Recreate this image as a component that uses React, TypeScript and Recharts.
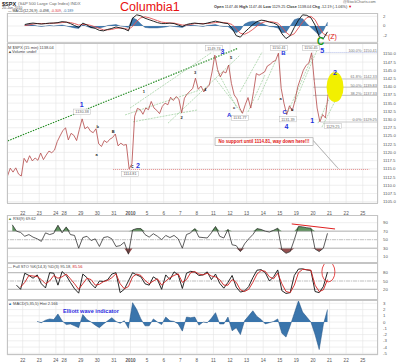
import React from "react";
import {
  ComposedChart,
  Line,
  Area,
  XAxis,
  YAxis,
  CartesianGrid,
  ReferenceLine,
  ReferenceDot,
} from "recharts";

const FONT = "'Liberation Sans', Arial, sans-serif";
const X_DOMAIN: [number, number] = [0.054, 22.42];

// trading sessions (Dec 24 is a half day)
const sessionLabels = ["21", "22", "23", "24", "28", "29", "30", "31", "2010", "5", "6", "7", "8", "11", "12", "13", "14", "15", "19", "20", "21", "22", "25"];
const sessionLength = [1, 1, 1, 0.5, 1, 1, 1, 1, 1, 1, 1, 1, 1, 1, 1, 1, 1, 1, 1, 1, 1, 1, 1];

// $SPX 15 min, sampled ~6 per session
const price: number[][] = [
  [1112.8, 1115.2, 1114.0, 1115.3, 1113.4, 1112.8],
  [1118.2, 1116.9, 1119.0, 1117.4, 1118.3, 1117.6],
  [1119.8, 1117.8, 1119.2, 1120.4, 1119.9, 1120.7],
  [1123.3, 1125.0, 1126.6],
  [1127.5, 1123.8, 1125.8, 1125.2, 1123.6, 1127.0],
  [1130.2, 1127.2, 1127.8, 1126.5, 1126.0, 1127.2],
  [1122.6, 1121.8, 1123.6, 1123.0, 1124.0, 1124.5],
  [1125.6, 1122.0, 1122.8, 1122.2, 1122.4, 1115.0],
  [1116.5, 1131.0, 1133.4, 1133.0, 1131.6, 1133.5],
  [1133.0, 1135.5, 1133.5, 1132.8, 1131.8, 1134.0],
  [1135.0, 1134.5, 1136.8, 1135.8, 1137.0, 1136.2],
  [1132.0, 1136.5, 1137.8, 1138.6, 1139.5, 1142.6],
  [1139.2, 1140.2, 1138.4, 1139.6, 1140.5, 1144.5],
  [1149.6, 1145.2, 1143.0, 1144.6, 1144.2, 1146.6],
  [1141.0, 1137.5, 1136.3, 1133.5, 1131.9, 1134.5],
  [1136.7, 1133.5, 1138.5, 1144.0, 1143.5, 1144.0],
  [1144.5, 1146.3, 1146.8, 1147.6, 1148.0, 1150.2],
  [1139.5, 1135.0, 1131.5, 1134.2, 1132.6, 1135.8],
  [1140.0, 1142.5, 1145.0, 1146.5, 1147.2, 1150.3],
  [1141.5, 1133.5, 1129.3, 1131.5, 1130.5, 1137.8],
];

// indicators, sampled ~4 per session
const macdLine: (number | null)[][] = [
  [null, null, null, null], [0.3, 0.5, 0.6, 0.5], [0.4, 0.5, 0.6, 0.6], [0.7, 0.9],
  [0.8, 0.5, 0.1, -0.3], [0.6, 0.2, -0.3, -0.5], [-0.9, -1.0, -0.7, -0.5], [-0.2, -0.4, -0.6, -1.0],
  [1.6, 2.3, 2.1, 1.6], [1.3, 1.0, 0.7, 0.5], [0.5, 0.6, 0.5, 0.2], [-0.1, 0.3, 0.5, 0.6],
  [0.5, 0.4, 0.6, 0.8], [1.0, 0.8, 0.6, 0.5], [-0.5, -2.0, -2.3, -1.3], [-0.5, 0.3, 0.9, 1.2],
  [1.1, 0.8, 0.6, 0.2], [-1.6, -2.6, -2.0, -0.3], [1.2, 2.3, 2.2, 1.7], [0.2, -2.2, -2.6, -1.2],
];
const signalLine: (number | null)[][] = [
  [null, null, null, null], [0.1, 0.2, 0.4, 0.5], [0.5, 0.5, 0.5, 0.6], [0.6, 0.7],
  [0.8, 0.7, 0.5, 0.2], [0.3, 0.3, 0.1, -0.2], [-0.5, -0.8, -0.8, -0.7], [-0.5, -0.4, -0.5, -0.7],
  [-0.1, 1.0, 1.7, 1.9], [1.7, 1.4, 1.1, 0.8], [0.7, 0.6, 0.6, 0.4], [0.2, 0.2, 0.3, 0.5],
  [0.5, 0.5, 0.5, 0.6], [0.7, 0.8, 0.7, 0.6], [0.3, -0.6, -1.5, -1.7], [-1.3, -0.7, 0.0, 0.6],
  [0.9, 0.9, 0.8, 0.6], [-0.2, -1.3, -2.0, -1.6], [-0.4, 0.8, 1.7, 2.0], [1.3, -0.3, -1.6, -2.0],
];
const rsi9: (number | null)[][] = [
  [null, 85, 70, 67], [58, 62, 56, 52], [46, 66, 62, 65], [84, 66],
  [80, 62, 60, 30], [55, 58, 48, 52], [34, 55, 57, 52], [34, 36, 44, 16],
  [73, 76, 76, 62], [56, 64, 58, 50], [60, 55, 60, 52], [30, 62, 66, 76],
  [56, 55, 54, 66], [81, 58, 54, 74], [38, 36, 22, 40], [52, 62, 76, 74],
  [70, 68, 72, 77], [26, 18, 22, 50], [81, 80, 78, 77], [28, 22, 30, 65],
];
const stoK: (number | null)[][] = [
  [null, null, 35, 20], [78, 70, 60, 72], [40, 25, 80, 78], [35, 84],
  [70, 45, 22, 6], [75, 62, 40, 25], [50, 48, 55, 75], [80, 8, 20, 50],
  [80, 72, 65, 40], [35, 65, 55, 20], [72, 55, 83, 72], [23, 78, 85, 82],
  [70, 72, 83, 55], [75, 42, 24, 45], [70, 28, 10, 14], [30, 62, 89, 91],
  [80, 50, 65, 90], [15, 5, 8, 70], [93, 94, 90, 88], [12, 8, 30, 82],
];
const stoD: (number | null)[][] = [
  [null, null, null, 28], [45, 70, 68, 66], [55, 40, 50, 70], [60, 65],
  [75, 58, 40, 20], [40, 60, 55, 35], [38, 48, 52, 62], [76, 40, 22, 30],
  [65, 75, 70, 52], [40, 50, 58, 35], [50, 62, 70, 76], [45, 55, 80, 84],
  [75, 72, 78, 68], [65, 55, 35, 35], [55, 45, 18, 12], [20, 45, 75, 88],
  [85, 65, 58, 78], [40, 12, 8, 35], [80, 92, 91, 89], [35, 12, 18, 55],
];
const ewiHist: (number | null)[][] = [
  [null, null, null, null], [null, null, null, 0.1], [-0.1, 0.3, 0.5, 0.4], [1.3, 0.2],
  [-0.4, -0.3, -0.6, -0.9], [1.2, 0.4, 0.0, -0.5], [-0.9, -0.3, 0.2, 0.7], [0.1, -0.2, 0.2, -1.0],
  [3.1, 2.0, 0.5, -0.6], [-0.6, 0.5, 0.0, -0.4], [0.8, 0.2, 0.1, -0.3], [-1.45, 0.8, 0.7, 0.8],
  [-0.5, 0.0, -0.1, 0.6], [1.5, -0.3, -0.3, 0.8], [-1.4, -0.9, -2.0, 0.2], [1.0, 1.8, 0.9, 0.4],
  [-0.3, -0.1, 0.1, 0.5], [-1.8, -2.4, -0.6, 1.4], [3.4, 1.6, 0.8, 0.0], [-2.0, -4.4, -0.4, 2.0],
];

const priceTicks = [1105, 1107.5, 1110, 1112.5, 1115, 1117.5, 1120, 1122.5, 1125, 1127.5, 1130, 1132.5, 1135, 1137.5, 1140, 1142.5, 1145, 1147.5, 1150];
const fibLevels = [
  { label: "100.0%: 1150.41", value: 1150.41 },
  { label: "61.8%: 1142.33", value: 1142.33 },
  { label: "50.0%: 1139.83", value: 1139.83 },
  { label: "38.2%: 1137.33", value: 1137.33 },
  { label: "0.0%: 1129.25", value: 1129.25 },
];

// chartist's drawings, in (session time, price)
const mainTrend = [{ x: 0.1, y: 1123.5 }, { x: 13.98, y: 1151.7 }];
const channelLines = [
  [7.17, 1131.4, 11.69, 1139.0], [7.65, 1129.3, 11.51, 1132.9], [9.76, 1128.9, 14.1, 1149.6],
  [7.47, 1133.5, 12.41, 1150.5], [12.59, 1142.6, 14.22, 1132.0], [12.71, 1145.0, 13.92, 1133.5],
  [14.1, 1138.4, 15.43, 1150.5], [14.58, 1132.3, 15.6, 1143.5], [15.18, 1135.9, 16.27, 1148.1],
  [16.99, 1132.3, 18.5, 1149.6], [17.41, 1135.3, 18.74, 1151.1], [18.8, 1128.9, 19.89, 1140.8],
  [19.04, 1127.7, 20.01, 1137.4],
];
const waveLabels = [
  { t: 4.56, p: 1134.6, text: "1", color: "#2233dd", size: 7 },
  { t: 7.95, p: 1115.9, text: "2", color: "#2233dd", size: 7 },
  { t: 7.6, p: 1115.7, text: "c", color: "#222", size: 4.5 },
  { t: 13.05, p: 1150.8, text: "3", color: "#2233dd", size: 7 },
  { t: 13.45, p: 1131.4, text: "A", color: "#2233dd", size: 6 },
  { t: 16.72, p: 1150.2, text: "B", color: "#2233dd", size: 6 },
  { t: 16.8, p: 1132.3, text: "C", color: "#2233dd", size: 6 },
  { t: 16.9, p: 1127.9, text: "4", color: "#2233dd", size: 7 },
  { t: 19.05, p: 1151.1, text: "5", color: "#2233dd", size: 7 },
  { t: 18.45, p: 1129.8, text: "1", color: "#2233dd", size: 7 },
  { t: 19.83, p: 1144.2, text: "2", color: "#2233dd", size: 7 },
  { t: 5.52, p: 1127.8, text: "b", color: "#222", size: 4 },
  { t: 5.46, p: 1119.3, text: "a", color: "#222", size: 4 },
  { t: 6.45, p: 1126.2, text: "B", color: "#222", size: 4 },
  { t: 8.3, p: 1138.4, text: "1", color: "#222", size: 4 },
  { t: 10.58, p: 1130.7, text: "2", color: "#222", size: 4 },
  { t: 11.4, p: 1144.2, text: "3", color: "#222", size: 4 },
  { t: 12.0, p: 1139.0, text: "4", color: "#222", size: 4 },
  { t: 13.57, p: 1149.0, text: "5", color: "#222", size: 4 },
  { t: 13.75, p: 1133.6, text: "c", color: "#222", size: 4 },
  { t: 16.55, p: 1136.5, text: "a", color: "#222", size: 4 },
  { t: 17.25, p: 1133.0, text: "b", color: "#222", size: 4 },
];
const priceBoxes = [
  { t: 4.58, p: 1132.4, text: "1130.38" },
  { t: 7.47, p: 1113.4, text: "1114.81" },
  { t: 12.53, p: 1151.7, text: "1149.74" },
  { t: 14.1, p: 1130.5, text: "1131.77" },
  { t: 16.45, p: 1151.8, text: "1150.41" },
  { t: 16.99, p: 1130.1, text: "1131.39" },
  { t: 18.38, p: 1151.8, text: "1150.45" },
  { t: 19.7, p: 1128.0, text: "1129.25" },
];

const sessionStart = sessionLength.map((_, i) => sessionLength.slice(0, i).reduce((a, b) => a + b, 0));
const dayTicks = sessionStart.slice(1);

function onGrid(values: (number | null)[][]) {
  const out: { t: number; v: number | null }[] = [];
  values.forEach((day, i) => {
    day.forEach((v, j) => out.push({ t: sessionStart[i] + ((j + 0.5) / day.length) * sessionLength[i], v }));
  });
  return out;
}

const priceData = onGrid(price).map((d) => ({ t: d.t, price: d.v }));

const mF = macdLine.flat();
const sF = signalLine.flat();
const rF = rsi9.flat();
const kF = stoK.flat();
const dF = stoD.flat();
const eF = ewiHist.flat();
const indData = onGrid(macdLine).map((g, i) => {
  const m = mF[i];
  const s = sF[i];
  const r = rF[i];
  return {
    t: g.t,
    macd: m,
    signal: s,
    hist: m != null && s != null ? m - s : null,
    rsi: r,
    rsiHi: r == null ? null : Math.max(r, 70),
    rsiLo: r == null ? null : Math.min(r, 30),
    k: kF[i],
    d: dF[i],
    ewi: eF[i],
  };
});

const DayTick = ({ x, y, payload, dy }: any) => {
  const label = sessionLabels[sessionStart.indexOf(payload.value)];
  return (
    <text x={x} y={y + dy} textAnchor="middle" fontSize={4.6} fill="#555" fontFamily={FONT} fontWeight={label === "2010" ? 700 : 400}>
      {label}
    </text>
  );
};

const rightTick = (fmt: (v: number) => string) => ({ x, y, payload }: any) => (
  <text x={x + 3} y={y + 1.5} fontSize={4.3} fill="#555" fontFamily={FONT}>
    {fmt(payload.value)}
  </text>
);

const label = (text: string, color: string, size: number, weight = 700, anchor = "middle") => (p: any) => (
  <text x={p.cx} y={p.cy} dy={size * 0.35} textAnchor={anchor} fontSize={size} fill={color} fontWeight={weight} fontFamily={FONT}>
    {text}
  </text>
);

const boxLabel = (text: string) => (p: any) => (
  <g>
    <rect x={p.cx - 8.5} y={p.cy - 2.6} width={17} height={5.2} fill="#fff" stroke="#bbb" strokeWidth={0.5} />
    <text x={p.cx} y={p.cy + 1.4} textAnchor="middle" fontSize={3.8} fill="#666" fontFamily={FONT}>
      {text}
    </text>
  </g>
);

const xAxisHidden = (
  <XAxis dataKey="t" type="number" domain={X_DOMAIN} ticks={dayTicks} interval={0} allowDataOverflow height={0} tick={false} axisLine={false} tickLine={false} />
);
const chartMargin = { top: 0, right: 0, left: 7, bottom: 0 };
const gridColor = "#e4e4e4";

const abs = (left: number, top: number, extra: React.CSSProperties = {}): React.CSSProperties => ({
  position: "absolute",
  left,
  top,
  fontFamily: FONT,
  whiteSpace: "nowrap",
  lineHeight: 1,
  ...extra,
});

const panelBox = (top: number, height: number) => (
  <div style={{ position: "absolute", left: 7, top, width: 371, height, border: "1px solid #c4c4c4", boxSizing: "border-box", pointerEvents: "none" }} />
);

export default function App() {
  return (
    <div style={{ position: "fixed", left: 0, top: 0, width: 400, height: 362, background: "#fff", overflow: "hidden" }}>
      {/* header */}
      <div style={abs(2, 1.5, { fontSize: 5.5, fontWeight: 700, color: "#222" })}>$SPX</div>
      <div style={abs(18, 2.2, { fontSize: 4.2, color: "#666" })}>(S&amp;P 500 Large Cap Index) INDX</div>
      <div style={abs(2, 7, { fontSize: 3.6, color: "#555" })}>20-Jan-2010</div>
      <div style={abs(120, 0.5, { fontSize: 12.5, color: "#e81010" })}>Columbia1</div>
      <div style={abs(343, 0.5, { fontSize: 3.8, color: "#666" })}>@StockCharts.com</div>
      <div style={abs(214, 5.5, { fontSize: 3.8, color: "#333" })}>
        <b>Open</b> 1147.46 <b>High</b> 1147.46 <b>Low</b> 1129.25 <b>Close</b> 1138.04 <b>Chg</b> -12.19 (-1.06%) <span style={{ color: "#d00" }}>▼</span>
      </div>

      {/* MACD(12,26,9) */}
      <div style={{ position: "absolute", left: 0, top: 13 }}>
        <ComposedChart width={400} height={29} data={indData} margin={chartMargin}>
          <CartesianGrid stroke={gridColor} strokeWidth={0.6} />
          {xAxisHidden}
          <YAxis orientation="right" width={22} domain={[-3.3, 2.68]} ticks={[-2, 0, 2]} interval={0} allowDataOverflow axisLine={false} tickLine={false} tickSize={0} tick={rightTick((v) => String(v))} />
          <Area dataKey="hist" baseValue={0} fill="#2f6ea8" fillOpacity={0.9} stroke="#1f4f80" strokeWidth={0.4} isAnimationActive={false} />
          <Line dataKey="signal" stroke="#e05050" strokeWidth={0.9} dot={false} isAnimationActive={false} />
          <Line dataKey="macd" stroke="#111" strokeWidth={0.9} dot={false} isAnimationActive={false} />
        </ComposedChart>
      </div>
      {panelBox(13, 30)}
      <div style={abs(8, 10.2, { fontSize: 3.6, color: "#333" })}>
        — MACD(12,26,9) -0.498, <span style={{ color: "#d33" }}>-0.309</span>, <span style={{ color: "#2f6ea8" }}>-0.189</span>
      </div>

      {/* price panel */}
      <div style={{ position: "absolute", left: 0, top: 42 }}>
        <ComposedChart width={400} height={173} data={priceData} margin={{ ...chartMargin, top: 1 }}>
          <CartesianGrid stroke={gridColor} strokeWidth={0.6} />
          <XAxis dataKey="t" type="number" domain={X_DOMAIN} ticks={dayTicks} interval={0} allowDataOverflow height={12} axisLine={false} tickLine={false} tickSize={0} tick={<DayTick dy={10} />} />
          <YAxis orientation="right" width={22} domain={[1104.6, 1153.3]} ticks={priceTicks} interval={0} allowDataOverflow axisLine={false} tickLine={false} tickSize={0} tick={rightTick((v) => v.toFixed(1))} />
          <ReferenceDot x={19.83} y={1139.9} r={1} shape={(p: any) => <ellipse cx={p.cx} cy={p.cy} rx={8.5} ry={15} fill="#f2f000" />} />
          <ReferenceLine segment={mainTrend} stroke="#1d8a1d" strokeWidth={1.1} strokeDasharray="1.5 1.2" />
          {channelLines.map((c, i) => (
            <ReferenceLine key={i} segment={[{ x: c[0], y: c[1] }, { x: c[2], y: c[3] }]} stroke="#88c488" strokeWidth={0.6} strokeDasharray="2 1" />
          ))}
          <ReferenceLine segment={[{ x: 6.45, y: 1114.81 }, { x: 21.9, y: 1114.81 }]} stroke="#e07070" strokeWidth={0.8} strokeDasharray="1 1" />
          {fibLevels.map((f, i) => (
            <ReferenceLine
              key={f.label}
              segment={[{ x: i === 0 || i === 4 ? 18.95 : 18.5, y: f.value }, { x: 22.42, y: f.value }]}
              stroke={i === 0 ? "#8090d8" : "#aaa"}
              strokeWidth={0.6}
              strokeDasharray={i === 0 ? "1 1" : undefined}
            />
          ))}
          {fibLevels.map((f) => (
            <ReferenceDot key={"l" + f.label} x={22.35} y={f.value + 0.6} r={1} shape={label(f.label, "#777", 3.8, 400, "end")} />
          ))}
          <ReferenceLine segment={[{ x: 18.42, y: 1124.1 }, { x: 20.05, y: 1115.0 }]} stroke="#888" strokeWidth={0.5} />
          <ReferenceLine segment={[{ x: 18.55, y: 1123.5 }, { x: 19.95, y: 1115.4 }]} stroke="#aaa" strokeWidth={0.5} />
          <Line dataKey="price" stroke="#b44848" strokeWidth={0.8} dot={false} isAnimationActive={false} />
          {priceBoxes.map((b) => (
            <ReferenceDot key={b.text} x={b.t} y={b.p} r={1} shape={boxLabel(b.text)} />
          ))}
          {waveLabels.map((w, i) => (
            <ReferenceDot key={"w" + i} x={w.t} y={w.p} r={1} shape={label(w.text, w.color, w.size)} />
          ))}
          <ReferenceDot
            x={15.55}
            y={1123.3}
            r={1}
            shape={(p: any) => (
              <g>
                <rect x={p.cx - 49} y={p.cy - 3.8} width={98} height={7.6} fill="#fff" stroke="#999" strokeWidth={0.6} />
                <text x={p.cx} y={p.cy + 1.6} textAnchor="middle" fontSize={4.5} fontWeight={700} fill="#e01010" fontFamily={FONT}>
                  No support until 1114.81, way down here!!!
                </text>
              </g>
            )}
          />
        </ComposedChart>
      </div>
      {panelBox(43, 161)}
      <div style={abs(8, 45.5, { fontSize: 4, color: "#444" })}>M $SPX (15 min) 1138.04</div>
      <div style={abs(8, 50, { fontSize: 4, color: "#444" })}>▲Volume undef</div>
      <div style={abs(317, 37, { fontSize: 10, fontWeight: 700, color: "#1a9a1a" })}>C</div>
      <div style={abs(328, 33, { fontSize: 7, color: "#e01010" })}>(Z)</div>

      {/* RSI(9) */}
      <div style={{ position: "absolute", left: 0, top: 215 }}>
        <ComposedChart width={400} height={48} data={indData} margin={chartMargin}>
          <CartesianGrid stroke={gridColor} strokeWidth={0.6} />
          {xAxisHidden}
          <YAxis orientation="right" width={22} domain={[-4.8, 108]} ticks={[10, 30, 50, 70, 90]} interval={0} allowDataOverflow axisLine={false} tickLine={false} tickSize={0} tick={rightTick((v) => String(v))} />
          <ReferenceLine y={70} stroke="#999" strokeWidth={0.7} />
          <ReferenceLine y={30} stroke="#999" strokeWidth={0.7} />
          <ReferenceLine y={50} stroke="#aaa" strokeWidth={0.6} strokeDasharray="4 1 1 1" />
          <Area dataKey="rsiHi" baseValue={70} fill="#4e8a4e" fillOpacity={0.9} stroke="none" isAnimationActive={false} />
          <Area dataKey="rsiLo" baseValue={30} fill="#8a3c3c" fillOpacity={0.9} stroke="none" isAnimationActive={false} />
          <Line dataKey="rsi" stroke="#333" strokeWidth={0.8} dot={false} isAnimationActive={false} />
          <ReferenceLine segment={[{ x: 17.22, y: 87 }, { x: 19.83, y: 75.2 }]} stroke="#e02020" strokeWidth={1} />
        </ComposedChart>
      </div>
      {panelBox(215, 48)}
      <div style={abs(8, 217, { fontSize: 4, color: "#444" })}>
        <span style={{ color: "#4e8a4e" }}>▲</span> RSI(9) 69.62
      </div>

      {/* Full stochastics */}
      <div style={{ position: "absolute", left: 0, top: 263 }}>
        <ComposedChart width={400} height={37} data={indData} margin={chartMargin}>
          <CartesianGrid stroke={gridColor} strokeWidth={0.6} />
          {xAxisHidden}
          <YAxis orientation="right" width={22} domain={[-18.6, 115]} ticks={[20, 50, 80]} interval={0} allowDataOverflow axisLine={false} tickLine={false} tickSize={0} tick={rightTick((v) => String(v))} />
          <ReferenceLine y={80} stroke="#999" strokeWidth={0.7} />
          <ReferenceLine y={20} stroke="#999" strokeWidth={0.7} />
          <ReferenceLine y={50} stroke="#aaa" strokeWidth={0.6} strokeDasharray="4 1 1 1" />
          <Line dataKey="k" stroke="#111" strokeWidth={0.9} dot={false} isAnimationActive={false} />
          <Line dataKey="d" stroke="#d02020" strokeWidth={0.9} dot={false} isAnimationActive={false} />
          <ReferenceDot x={19.43} y={83} r={1} shape={(p: any) => <ellipse cx={p.cx} cy={p.cy} rx={6.5} ry={10} fill="none" stroke="#e02020" strokeWidth={0.8} />} />
        </ComposedChart>
      </div>
      {panelBox(263, 37)}
      <div style={abs(8, 265, { fontSize: 4, color: "#444" })}>
        — Full STO %K(14,3) %D(3) 95.18, <span style={{ color: "#d02020" }}>85.56</span>
      </div>

      {/* MACD(5,35,5) histogram */}
      <div style={{ position: "absolute", left: 0, top: 300 }}>
        <ComposedChart width={400} height={62} data={indData} margin={chartMargin}>
          <CartesianGrid stroke={gridColor} strokeWidth={0.6} />
          <XAxis dataKey="t" type="number" domain={X_DOMAIN} ticks={dayTicks} interval={0} allowDataOverflow height={7} axisLine={false} tickLine={false} tickSize={0} tick={<DayTick dy={5} />} />
          <YAxis orientation="right" width={22} domain={[-5.27, 3.53]} ticks={[-5, -4, -3, -2, -1, 0, 1, 2, 3]} interval={0} allowDataOverflow axisLine={false} tickLine={false} tickSize={0} tick={rightTick((v) => String(v))} />
          <Area dataKey="ewi" baseValue={0} fill="#2f6ea8" fillOpacity={0.95} stroke="#1f4f80" strokeWidth={0.5} isAnimationActive={false} />
        </ComposedChart>
      </div>
      {panelBox(300, 55)}
      <div style={abs(8, 302, { fontSize: 4, color: "#444" })}>
        <span style={{ color: "#2f6ea8" }}>▲</span> MACD(5,35,5) Hist 2.166
      </div>
      <div style={abs(63, 309, { fontSize: 5.6, fontWeight: 700, color: "#2a2ae0" })}>Elliott wave indicator</div>
    </div>
  );
}
